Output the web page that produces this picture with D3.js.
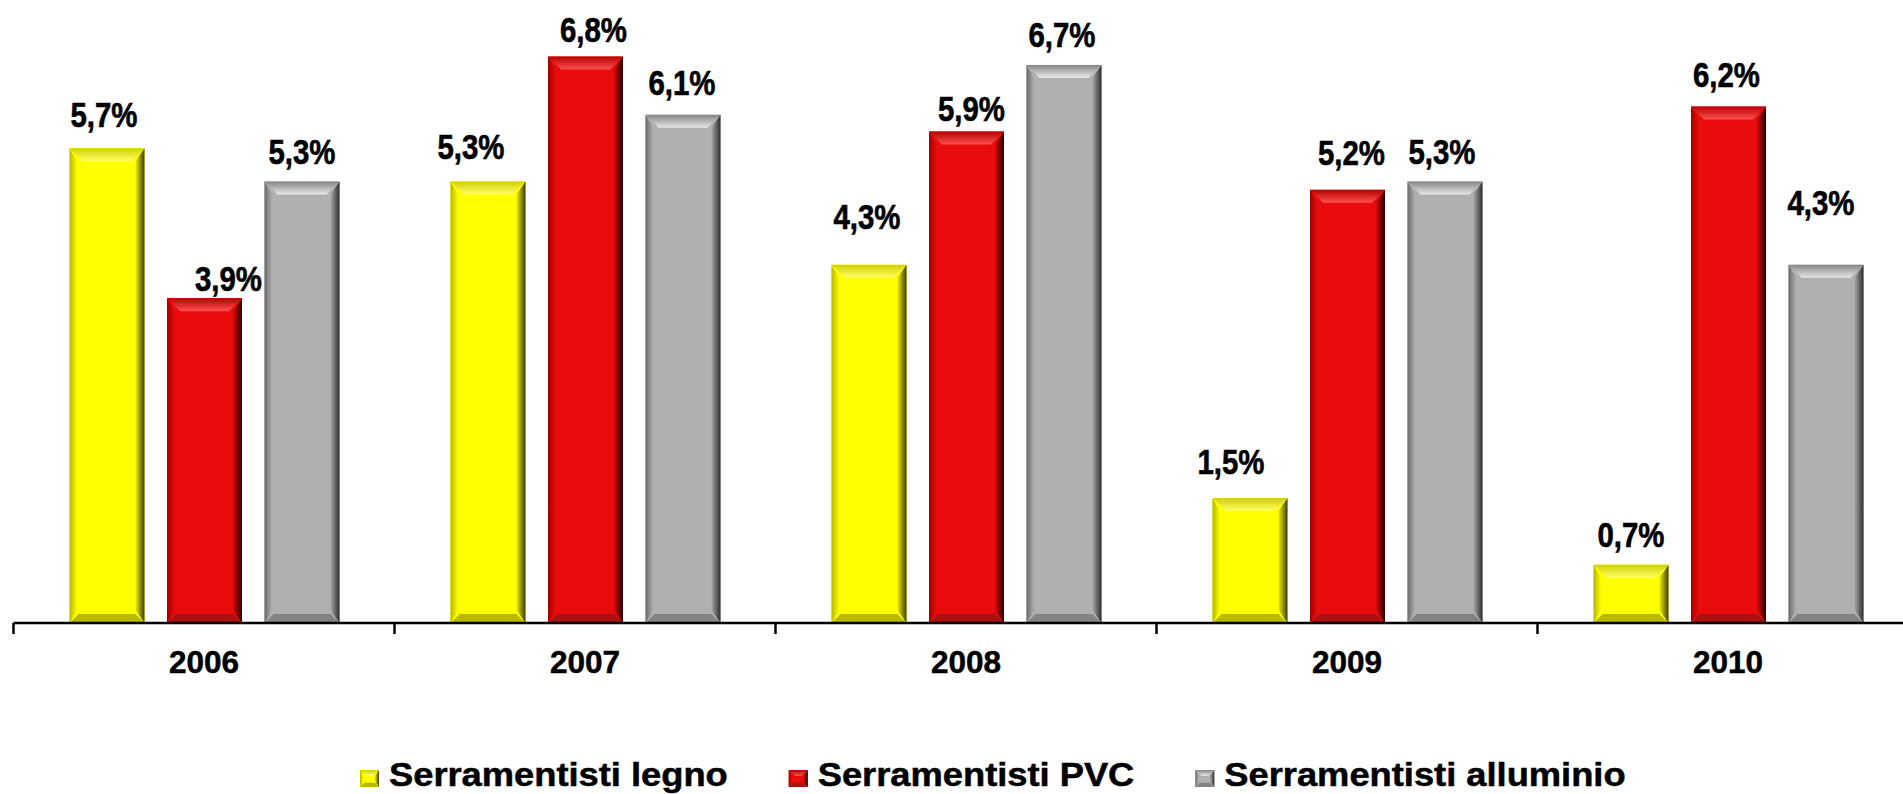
<!DOCTYPE html>
<html>
<head>
<meta charset="utf-8">
<script src="https://cdn.jsdelivr.net/npm/d3@7"></script>
<style>
  html, body { margin: 0; padding: 0; background: #fff; }
  svg { display: block; font-family: "Liberation Sans", Arial, sans-serif; }
</style>
</head>
<body>
<div id="chart"></div>
<script>
////////////////////////////////////////////////////////////////
// Data

var years = ["2006", "2007", "2008", "2009", "2010"];
var seriesNames = ["Serramentisti legno", "Serramentisti PVC", "Serramentisti alluminio"];
var legno = [5.7, 5.3, 4.3, 1.5, 0.7];
var pvc = [3.9, 6.8, 5.9, 5.2, 6.2];
var alluminio = [5.3, 6.1, 6.7, 5.3, 4.3];

// hand placed value labels in the original: [dx, gap above bar]
var labelNudge = [
    [[-3, 21], [-17, 23], [-2, 36], [-19, 24], [0, 18]],
    [[24, 7], [8, 15], [5, 11], [4, 25], [-2, 20]],
    [[0, 18], [-1, 20], [-2, 18], [-3, 18], [-5, 50]]
];

////////////////////////////////////////////////////////////////
// Basic parameters

var svgWidth = 1903;
var svgHeight = 794;
var baseY = 623;
var catWidth = 381;
var plotLeft = 13.5;

var svg = d3.select("#chart")
    .append("svg")
    .attr("width", svgWidth)
    .attr("height", svgHeight);

// bevel colours: main, top(dark->light), left(dark->main), right(main->dark), bottom
var palette = [
    { key: "yel", main: "#ffff00", top: ["#d0d000", "#ffff66"], left: ["#b8b800", "#ffff00"], right: ["#f0f000", "#3c3c00"], bottom: "#a8a800" },
    { key: "red", main: "#e80c0c", top: ["#b80000", "#ff5050"], left: ["#a00000", "#e80c0c"], right: ["#d80a0a", "#280000"], bottom: "#9a1414" },
    { key: "gry", main: "#b0b0b0", top: ["#858585", "#e8e8e8"], left: ["#6a6a6a", "#b0b0b0"], right: ["#a8a8a8", "#2e2e2e"], bottom: "#787878" }
];

var defs = svg.append("defs");
function addGrad(id, c0, c1, horizontal) {
    var g = defs.append("linearGradient").attr("id", id)
        .attr("x1", 0).attr("y1", 0)
        .attr("x2", horizontal ? 1 : 0).attr("y2", horizontal ? 0 : 1);
    g.append("stop").attr("offset", "0%").attr("stop-color", c0);
    g.append("stop").attr("offset", "100%").attr("stop-color", c1);
}
palette.forEach(function (p) {
    addGrad(p.key + "-top", p.top[0], p.top[1], false);
    addGrad(p.key + "-left", p.left[0], p.left[1], true);
    addGrad(p.key + "-right", p.right[0], p.right[1], true);
});

// beveled box
function bevelBox(g, x, y, w, h, p, b) {
    b = Math.min(b, w / 2, h / 2);
    g.append("rect").attr("x", x).attr("y", y).attr("width", w).attr("height", h).attr("fill", p.main);
    var pts = function (a) { return a.map(function (d) { return d.join(","); }).join(" "); };
    g.append("polygon").attr("fill", "url(#" + p.key + "-left)")
        .attr("points", pts([[x, y], [x + b * 0.6, y + b], [x + b * 0.6, y + h - b], [x, y + h]]));
    g.append("polygon").attr("fill", "url(#" + p.key + "-right)")
        .attr("points", pts([[x + w, y], [x + w - b * 0.7, y + b], [x + w - b * 0.7, y + h - b], [x + w, y + h]]));
    g.append("polygon").attr("fill", "url(#" + p.key + "-top)")
        .attr("points", pts([[x, y], [x + w, y], [x + w - b, y + b], [x + b, y + b]]));
    g.append("polygon").attr("fill", p.bottom).attr("opacity", 0.8)
        .attr("points", pts([[x, y + h], [x + w, y + h], [x + w - b * 0.7, y + h - b * 0.7], [x + b * 0.7, y + h - b * 0.7]]));
}

////////////////////////////////////////////////////////////////
// Scales

var x0 = d3.scaleBand()
    .domain(years)
    .range([plotLeft, plotLeft + catWidth * years.length])
    .padding(0);

var x1 = d3.scaleBand()
    .domain(seriesNames)
    .range([56, 326])
    .paddingInner(0.2308);

var y = d3.scaleLinear()
    .domain([0, 7.5])
    .range([baseY, baseY - 83.3 * 7.5]);

var itLocale = d3.formatLocale({ decimal: ",", thousands: ".", grouping: [3], currency: ["", "€"] });
var fmt = itLocale.format(".1f");

////////////////////////////////////////////////////////////////
// Bars

var seriesValues = [legno, pvc, alluminio];
var chart = svg.append("g");

seriesValues.forEach(function (vals, si) {
    var p = palette[si];
    vals.forEach(function (v, yi) {
        var bx = x0(years[yi]) + x1(seriesNames[si]);
        var by = y(v);
        var g = chart.append("g").attr("class", "bar");
        bevelBox(g, bx, by, x1.bandwidth(), baseY - by, p, 13);
    });
});

// Value labels
seriesValues.forEach(function (vals, si) {
    vals.forEach(function (v, yi) {
        var cx = x0(years[yi]) + x1(seriesNames[si]) + x1.bandwidth() / 2 + labelNudge[si][yi][0];
        var ty = y(v) - labelNudge[si][yi][1];
        chart.append("text")
            .attr("transform", "translate(" + cx + "," + ty + ") scale(0.89,1.04)")
            .attr("text-anchor", "middle")
            .style("font-size", "33px")
            .style("font-weight", "bold")
            .attr("fill", "#000")
            .attr("stroke", "#000")
            .attr("stroke-width", 0.6)
            .text(fmt(v) + "%");
    });
});

////////////////////////////////////////////////////////////////
// X axis

var xAxis = d3.axisBottom(x0).tickSize(0).tickPadding(0);
var axisG = svg.append("g")
    .attr("transform", "translate(0," + baseY + ")")
    .call(xAxis);
axisG.select(".domain").remove();
axisG.selectAll("text")
    .attr("y", 50)
    .attr("dy", 0)
    .style("font-size", "31.5px")
    .style("font-weight", "bold")
    .style("font-family", "'Liberation Sans', Arial, sans-serif")
    .attr("fill", "#000")
    .attr("stroke", "#000")
    .attr("stroke-width", 0.5);

axisG.append("line")
    .attr("x1", plotLeft).attr("x2", svgWidth + 20)
    .attr("y1", 0).attr("y2", 0)
    .attr("stroke", "#000").attr("stroke-width", 2.5);

axisG.selectAll(".boundary")
    .data(years)
    .enter()
    .append("line")
    .attr("class", "boundary")
    .attr("x1", d => x0(d)).attr("x2", d => x0(d))
    .attr("y1", 0).attr("y2", 11)
    .attr("stroke", "#000").attr("stroke-width", 2.5);

////////////////////////////////////////////////////////////////
// Legend

var legend = svg.append("g").attr("transform", "translate(360,786)");
var lx = 0;
seriesNames.forEach(function (name, si) {
    var item = legend.append("g").attr("transform", "translate(" + lx + ",0)");
    bevelBox(item, 0, -16, 19, 17, palette[si], 6);
    var t = item.append("text")
        .attr("transform", "translate(29,0) scale(1.1,1)")
        .style("font-size", "33px")
        .style("font-weight", "bold")
        .attr("fill", "#000")
        .attr("stroke", "#000")
        .attr("stroke-width", 0.5)
        .text(name);
    var w = t.node().getComputedTextLength() * 1.1;
    lx += 29 + w + 61;
});
</script>
</body>
</html>
